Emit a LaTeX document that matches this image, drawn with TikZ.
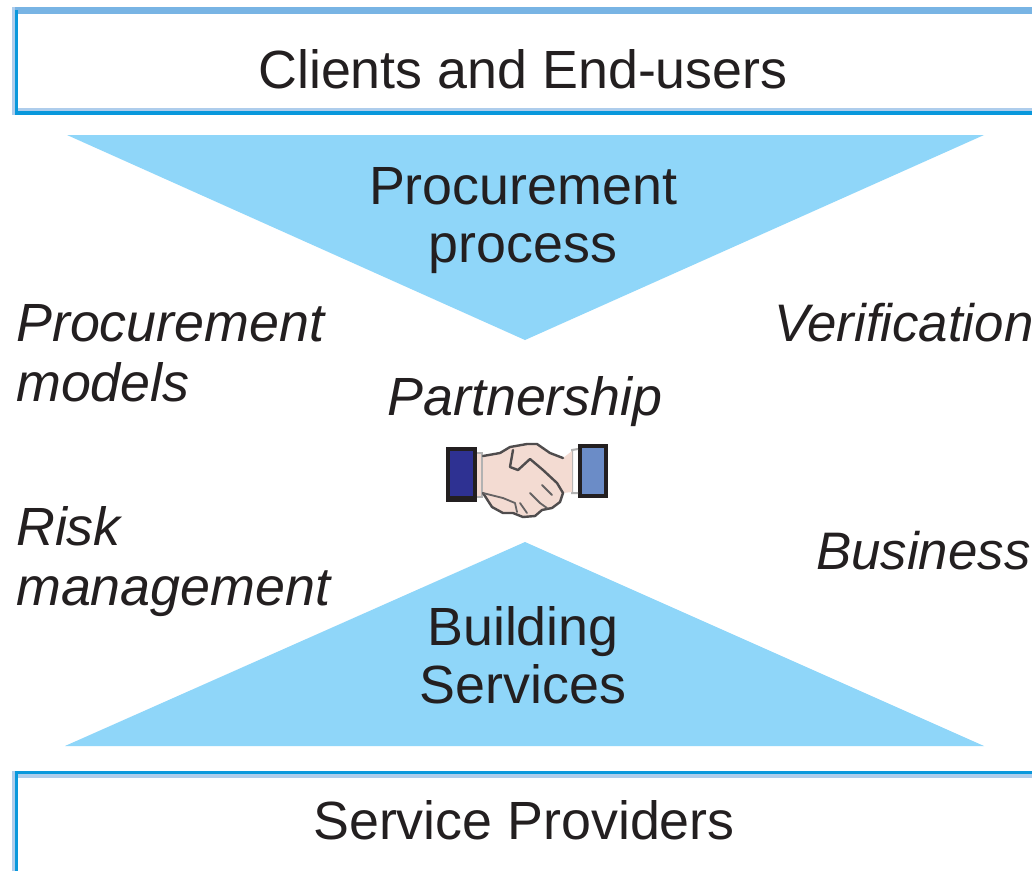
\documentclass[tikz,border=0pt]{standalone}
\usepackage{fontspec}
\setmainfont{Liberation Sans}
\definecolor{boxblue}{HTML}{0998DC}
\definecolor{boxlight}{HTML}{AECDEC}
\definecolor{boxtop}{HTML}{78B4E4}
\definecolor{triblue}{HTML}{8FD6F9}
\definecolor{ink}{HTML}{231F20}
\definecolor{skin}{HTML}{F3DBD2}
\definecolor{cuffa}{HTML}{2E3192}
\definecolor{cuffb}{HTML}{6B8CC7}
\tikzset{
  x=1pt,y=-1pt,
  labeltext/.style={font=\fontsize{53.8}{58}\selectfont,text=ink,inner sep=0pt,align=center},
  sidetext/.style={font=\fontsize{53.8}{60}\selectfont\itshape,text=ink,inner sep=0pt,align=left,anchor=base west},
  sidetextsmall/.style={font=\fontsize{52.8}{60}\selectfont\itshape,text=ink,inner sep=0pt,align=left,anchor=base west},
  tri/.style={fill=triblue,draw=none},
  cuff/.style={draw=ink,line width=3.5pt},
  hand/.style={draw=ink!80,line width=2.4pt,line join=round,line cap=round},
  fine/.style={draw=ink!70,line width=1.8pt,line cap=round,line join=round}
}
\begin{document}
\begin{tikzpicture}
\useasboundingbox (0,0) rectangle (1032,871);
\fill[white] (0,0) rectangle (1032,871);
% top box
\fill[boxlight] (12,7) rectangle (18,115);
\fill[boxlight] (18,108) rectangle (1032,111);
\fill[boxtop] (15,7) rectangle (1032,14);
\fill[boxblue] (15,10) rectangle (18,115);
\fill[boxblue] (15,111) rectangle (1032,115);
% bottom box
\fill[boxlight] (12,771) rectangle (18,871);
\fill[boxlight] (18,774) rectangle (1032,778);
\fill[boxblue] (15,771) rectangle (1032,774);
\fill[boxblue] (15,774) rectangle (18,871);
\node[labeltext] (clients) at (523,69) {Clients and End-users};
\node[labeltext] (providers) at (524,820) {Service Providers};
% triangles
\path[tri] (67,135) -- (984,135) -- (525,340) -- cycle;
\path[tri] (65,746) -- (984,746) -- (525,542) -- cycle;
\node[labeltext] (procure) at (523,221) {Procurement\\process};
\node[labeltext] (building) at (523,655) {Building\\Services};
% side labels
\node[sidetext] (pm1) at (16,341) {Procurement};
\node[sidetext] (pm2) at (16,401) {models};
\node[sidetext] (rm1) at (16,545) {Risk};
\node[sidetext] (rm2) at (16,605) {management};
\node[sidetextsmall] (ver) at (774,341) {Verification};
\node[sidetextsmall] (bus) at (816,569) {Business};
\node[sidetext,anchor=base] (part) at (525,415) {Partnership};
% handshake
\fill[cuffa] (448,449) rectangle (475,499);
\draw[cuff] (448,449) rectangle (475,499);
\fill[ink] (446,496) rectangle (477,502);
\fill[cuffb] (580,446) rectangle (606,496);
\draw[cuff] (580,446) rectangle (606,496);
\draw[line width=2pt,draw=black!30,fill=skin] (477,453) -- (482,453) -- (482,497) -- (477,497);
\draw[line width=2pt,draw=black!30] (578,449) -- (572,450) -- (572,493) -- (578,493);
\path[fill=skin] (483,456) -- (500,453) -- (510,447) -- (527,444) -- (537,444) -- (550,453) -- (563,458) -- (572,451) -- (572,492) -- (563,493) -- (560,502) -- (552,508) -- (542,510) -- (535,516) -- (523,517) -- (513,513) -- (503,513) -- (492,507) -- (483,493) -- cycle;
\draw[hand] (483,456) -- (500,453) -- (510,447) -- (527,444) -- (537,444) -- (550,453) -- (563,458);
\draw[hand] (513,450) -- (510,467) -- (518,470) -- (530,459) -- (543,470) -- (557,483) -- (563,493) -- (560,502) -- (552,508) -- (542,510) -- (535,516) -- (523,517) -- (513,513) -- (503,513) -- (492,507) -- (483,493);
\draw[fine] (483,493) -- (503,498) -- (515,503) -- (517,512);
\draw[fine] (520,503) -- (527,513);
\draw[fine] (530,493) -- (540,503) -- (547,508);
\draw[fine] (542,485) -- (552,495);
\end{tikzpicture}
\end{document}
